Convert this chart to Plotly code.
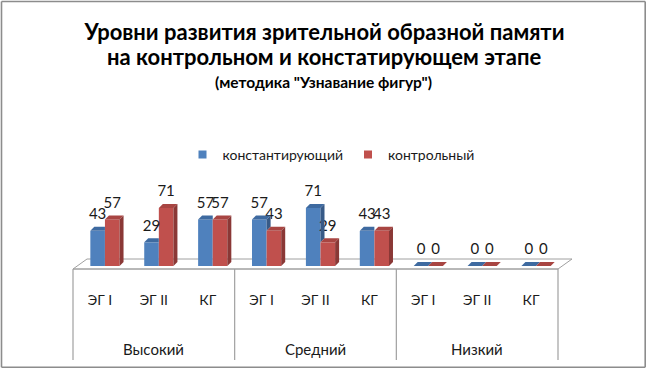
import plotly.graph_objects as go

# ---------------- data ----------------
levels = ["Высокий", "Средний", "Низкий"]
groups = ["ЭГ I", "ЭГ II", "КГ"]
series_names = ["константирующий", "контрольный"]
konstat = [43, 29, 57, 57, 71, 43, 0, 0, 0]
kontrol = [57, 71, 57, 43, 29, 43, 0, 0, 0]
title_line1 = "Уровни развития зрительной образной памяти"
title_line2 = "на контрольном и констатирующем этапе"
subtitle_text = "(методика \"Узнавание фигур\")"

# ---------------- geometry ----------------
W, H = 647, 372
ML, MR = 78, 84
PT, PB = 140, 266            # plot top / bottom in px
PLOT_W = W - ML - MR
PLOT_H = PB - PT
PX_PER_UNIT = 0.817
YMAX = PLOT_H / PX_PER_UNIT
n = len(konstat)
slot_px = PLOT_W / n
BW = 14.6 / slot_px          # bar width in category units
DX = 4.0 / slot_px           # 3d depth (x) in category units
DY = 4.0 / PX_PER_UNIT       # 3d depth (y) in value units
LBL = 8.0 / PX_PER_UNIT      # label lift
SHIFT = -5                   # front plane shift in px

FONT = "Lato, 'Open Sans', 'Noto Sans', sans-serif"
BLUE, BLUE_SIDE, BLUE_TOP = "#4F81BD", "#375A87", "#3E6AA0"
RED, RED_SIDE, RED_TOP = "#C0504D", "#8A3836", "#A84542"
GRID = "#A0A0A0"
TXT = "#1A1A1A"

idx = list(range(n))

def px_x(px):
    return (px - ML) / PLOT_W

def px_y(py):
    return (PB - py) / PLOT_H

fig = go.Figure()

fig.add_trace(go.Bar(x=idx, y=konstat, width=BW, offset=-BW, marker=dict(color=BLUE, line=dict(width=0)),
                     showlegend=False, hoverinfo="skip"))
fig.add_trace(go.Bar(x=idx, y=kontrol, width=BW, offset=0, marker=dict(color=RED, line=dict(width=0)),
                     showlegend=False, hoverinfo="skip"))

# value labels
fig.add_trace(go.Scatter(x=[i - BW / 2 for i in idx], y=[v + LBL for v in konstat], mode="text",
                         text=[str(v) for v in konstat], textposition="top center",
                         textfont=dict(family=FONT, size=15, color=TXT),
                         showlegend=False, hoverinfo="skip", cliponaxis=False))
fig.add_trace(go.Scatter(x=[i + BW / 2 for i in idx], y=[v + LBL for v in kontrol], mode="text",
                         text=[str(v) for v in kontrol], textposition="top center",
                         textfont=dict(family=FONT, size=15, color=TXT),
                         showlegend=False, hoverinfo="skip", cliponaxis=False))

# legend proxies
for name, col in zip(series_names, [BLUE, RED]):
    fig.add_trace(go.Scatter(x=[None], y=[None], mode="markers", name=name,
                             marker=dict(symbol="square", size=8, color=col)))

shapes = []

def poly(pts, color):
    d = "M " + " L ".join(f"{x},{y}" for x, y in pts) + " Z"
    return dict(type="path", path=d, xref="x", yref="y", fillcolor=color,
                line=dict(width=0), layer="above")

# floor (3D base)
floor = [(73, 269), (87, 259), (572, 259), (558, 269)]
d = "M " + " L ".join(f"{px_x(x)},{px_y(y)}" for x, y in floor) + " Z"
shapes.append(dict(type="path", path=d, xref="paper", yref="paper", fillcolor="white",
                   line=dict(color=GRID, width=1), layer="below"))

# 3D faces
for i, (vb, vr) in enumerate(zip(konstat, kontrol)):
    xb0, xb1 = i - BW, i
    xr0, xr1 = i, i + BW
    if vr >= vb and vb > 0:
        shapes.append(poly([(xb0, vb), (xb0 + DX, vb + DY), (xb1, vb + DY), (xb1, vb)], BLUE_TOP))
    else:
        shapes.append(poly([(xb0, vb), (xb0 + DX, vb + DY), (xb1 + DX, vb + DY), (xb1, vb)], BLUE_TOP))
    if vb > vr:
        shapes.append(poly([(xb1, vr), (xb1, vb), (xb1 + DX, vb + DY), (xb1 + DX, vr + DY)], BLUE_SIDE))
    shapes.append(poly([(xr0, vr), (xr0 + DX, vr + DY), (xr1 + DX, vr + DY), (xr1, vr)], RED_TOP))
    if vr > 0:
        shapes.append(poly([(xr1, 0), (xr1 + DX, DY), (xr1 + DX, vr + DY), (xr1, vr)], RED_SIDE))

# category box lines
shapes.append(dict(type="line", xref="paper", yref="paper", x0=px_x(73), x1=px_x(558),
                   y0=px_y(269), y1=px_y(269), line=dict(color=GRID, width=1.2)))
for k in range(len(levels) + 1):
    xb = px_x(73 + k * 3 * slot_px)
    shapes.append(dict(type="line", xref="paper", yref="paper", x0=xb, x1=xb,
                       y0=px_y(269), y1=px_y(360), line=dict(color=GRID, width=1.2)))

# outer border (drawn as four edges)
BC = "#8C8C8C"
BOT = 367.2
for (ax, ay, bx, by) in [(1.5, 1.5, 645.2, 1.5), (645.2, 1.5, 645.2, BOT),
                         (645.2, BOT, 1.5, BOT), (1.5, BOT, 1.5, 1.5)]:
    shapes.append(dict(type="line", xref="paper", yref="paper", x0=px_x(ax), y0=px_y(ay),
                       x1=px_x(bx), y1=px_y(by), line=dict(color=BC, width=1.6)))

annotations = []
for g, lev in enumerate(levels):
    annotations.append(dict(x=g * 3 + 1, xref="x", y=px_y(349), yref="paper", text=lev,
                            showarrow=False, xshift=SHIFT, yanchor="middle",
                            font=dict(family=FONT, size=15, color=TXT)))
annotations.append(dict(x=px_x(324), xref="paper", y=px_y(57), yref="paper",
                        text="<b>" + title_line2 + "</b>", showarrow=False, yanchor="middle",
                        font=dict(family=FONT, size=22, color="#000000")))
annotations.append(dict(x=px_x(323), xref="paper", y=px_y(82), yref="paper",
                        text="<b>" + subtitle_text + "</b>", showarrow=False, yanchor="middle",
                        font=dict(family=FONT, size=15.5, color="#000000")))

fig.update_layout(
    width=W, height=H,
    margin=dict(l=ML, r=MR, t=PT, b=H - PB, pad=0),
    paper_bgcolor="white", plot_bgcolor="rgba(0,0,0,0)",
    barmode="overlay",
    title=dict(text="<b>" + title_line1 + "</b>", x=px_x(324.5), xanchor="center", xref="paper",
               y=1 - 32 / H, yref="container", yanchor="middle",
               font=dict(family=FONT, size=22, color="#000000")),
    legend=dict(orientation="h", x=px_x(331), xanchor="center", y=px_y(155), yanchor="middle",
                font=dict(family=FONT, size=14, color=TXT), bgcolor="rgba(0,0,0,0)"),
    xaxis=dict(range=[-0.5, n - 0.5], tickvals=idx, ticktext=groups * len(levels),
               showgrid=False, zeroline=False, showline=False, ticks="",
               ticklabelshift=SHIFT, ticklabelstandoff=24,
               tickfont=dict(family=FONT, size=14, color=TXT), fixedrange=True),
    yaxis=dict(range=[0, YMAX], visible=False, fixedrange=True),
    shapes=shapes,
    annotations=annotations,
    showlegend=True,
)

fig.write_html("out.html", config={"displayModeBar": False},
               post_script="document.body.style.margin='0';document.body.style.overflow='hidden';")
